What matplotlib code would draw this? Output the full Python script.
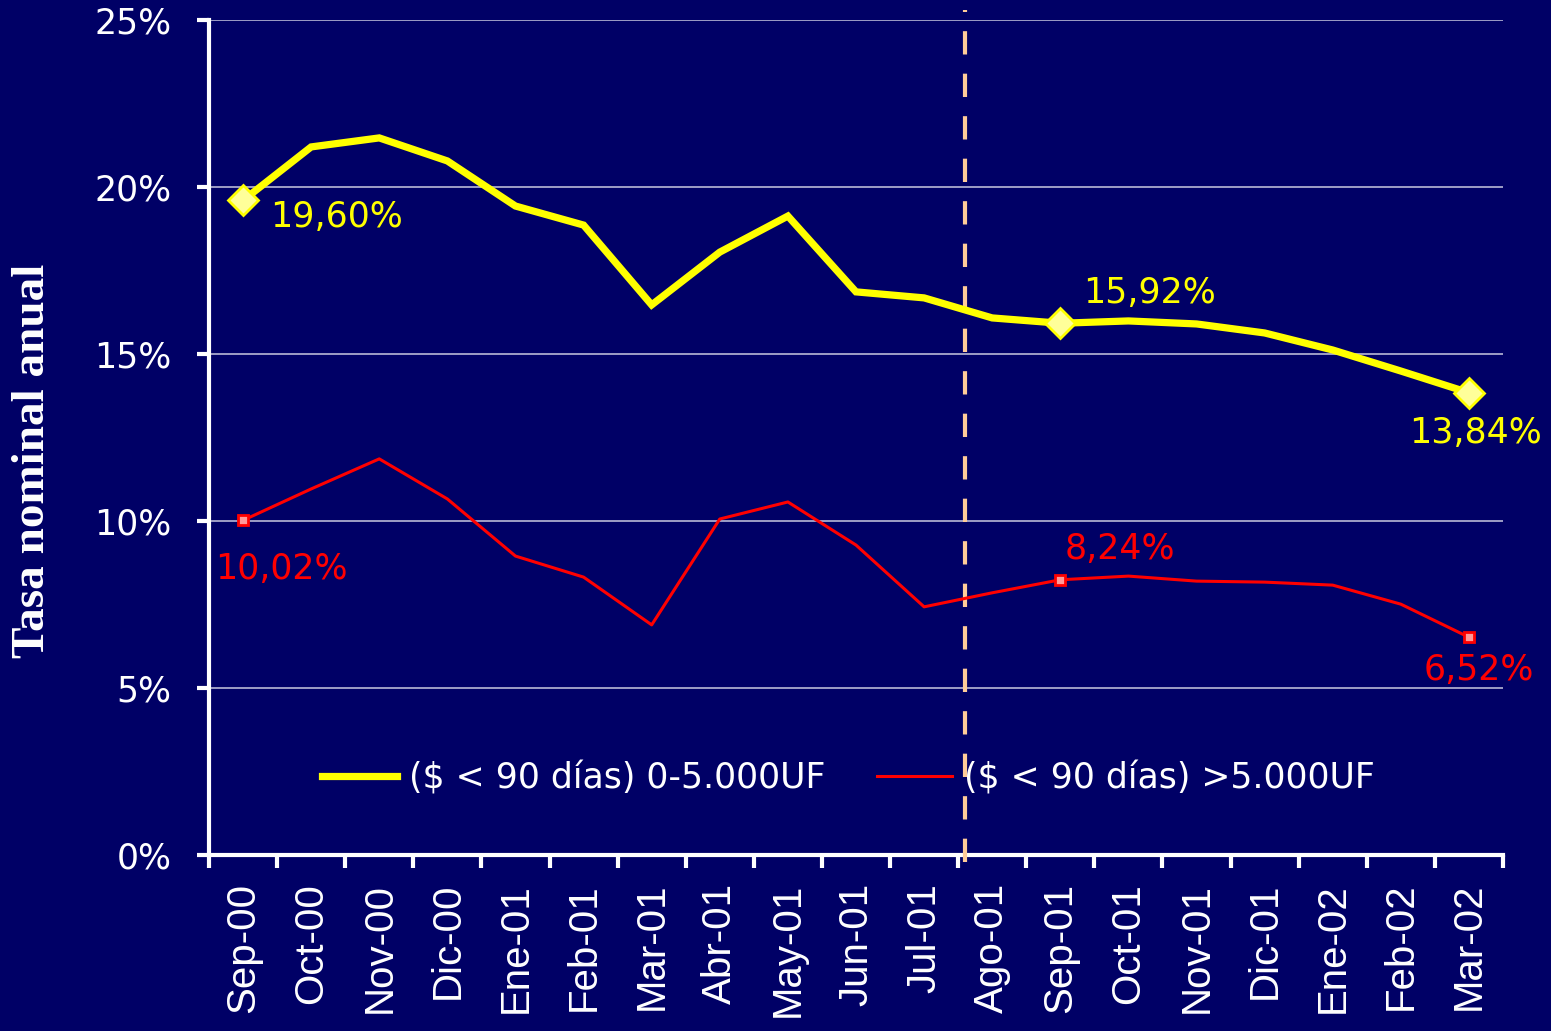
import matplotlib
matplotlib.use("Agg")
import matplotlib.pyplot as plt
from matplotlib.ticker import FixedLocator, FuncFormatter

categories = ["Sep-00", "Oct-00", "Nov-00", "Dic-00", "Ene-01", "Feb-01", "Mar-01",
              "Abr-01", "May-01", "Jun-01", "Jul-01", "Ago-01", "Sep-01", "Oct-01",
              "Nov-01", "Dic-01", "Ene-02", "Feb-02", "Mar-02"]
small = [19.60, 21.20, 21.47, 20.78, 19.43, 18.86, 16.47, 18.05, 19.13, 16.86,
         16.68, 16.08, 15.92, 15.99, 15.90, 15.63, 15.12, 14.49, 13.84]
large = [10.02, 10.96, 11.86, 10.66, 8.95, 8.32, 6.89, 10.06, 10.57, 9.28,
         7.43, 7.85, 8.24, 8.35, 8.20, 8.17, 8.08, 7.51, 6.52]
series_names = ["($ < 90 días) 0-5.000UF", "($ < 90 días) >5.000UF"]
marked = [0, 12, 18]
yticks = [0, 5, 10, 15, 20, 25]
divider = 10.6

BG = "#000066"
YEL = "#FFFF00"
RED = "#FF0000"

fig = plt.figure(figsize=(15.51, 10.31), dpi=100, facecolor=BG)
ax = fig.add_axes([209/1551, 1 - 855/1031, (1503-209)/1551, (855-20)/1031])
ax.set_facecolor(BG)

x = list(range(len(categories)))
ax.plot(x, small, color=YEL, lw=5.2, solid_joinstyle="miter", zorder=4,
        label=series_names[0])
ax.plot(x, large, color=RED, lw=2.2, zorder=4, label=series_names[1])
ax.plot([x[i] for i in marked], [small[i] for i in marked], ls="none", marker="D",
        ms=15, mfc="#FFFF99", mec=YEL, mew=2, zorder=5)
ax.plot([x[i] for i in marked], [large[i] for i in marked], ls="none", marker="s",
        ms=7, mfc="#FF9999", mec=RED, mew=2, zorder=5)

# labels
yel_off = [(27, -17, "left"), (23, 30, "left"), (7, -40, "center")]
red_off = [(38, -49, "center"), (60, 31, "center"), (10, -33, "center")]
for (dx, dy, ha), i in zip(yel_off, marked):
    ax.annotate(f"{small[i]:.2f}%".replace(".", ","), (x[i], small[i]),
                xytext=(dx, dy), textcoords="offset pixels", ha=ha, va="center",
                color=YEL, fontsize=25, family="DejaVu Sans", zorder=6,
                annotation_clip=False)
for (dx, dy, ha), i in zip(red_off, marked):
    ax.annotate(f"{large[i]:.2f}%".replace(".", ","), (x[i], large[i]),
                xytext=(dx, dy), textcoords="offset pixels", ha=ha, va="center",
                color=RED, fontsize=25, family="DejaVu Sans", zorder=6,
                annotation_clip=False)

ax.axvline(divider, ymin=-0.008, ymax=1.012, color="#FFCC99", lw=3.0,
           dashes=(5.6, 4.6), clip_on=False, zorder=3)

ax.set_xlim(-0.5, len(categories) - 0.5)
ax.set_ylim(0, 25)
ax.set_yticks(yticks)
ax.yaxis.set_major_formatter(FuncFormatter(lambda v, p: f"{v:.0f}%"))
for v in yticks[1:]:
    ax.axhline(v, color="#C8C8E0", lw=1.1, zorder=1)

ax.set_xticks(x)
ax.set_xticklabels(categories, rotation=90, fontsize=29, color="white",
                   family="Liberation Sans")
ax.xaxis.set_minor_locator(FixedLocator([i - 0.5 for i in range(len(categories) + 1)]))
ax.tick_params(axis="x", which="major", length=0, pad=20)
ax.tick_params(axis="x", which="minor", length=9, width=3, color="white", direction="out")
ax.tick_params(axis="y", length=9, width=3, color="white", pad=18,
               labelsize=25, labelcolor="white")
for lab in ax.get_yticklabels():
    lab.set_family("DejaVu Sans")

for s in ["top", "right"]:
    ax.spines[s].set_visible(False)
for s in ["left", "bottom"]:
    ax.spines[s].set_color("white")
    ax.spines[s].set_linewidth(3)

fig.text(33/1551, 1 - 461/1031, "Tasa nominal anual", rotation=90, ha="center",
         va="center", color="white", fontsize=34, fontweight="bold",
         family="Liberation Serif")

leg = ax.legend(loc="center", bbox_to_anchor=(0.494, 0.092), ncol=2, frameon=False,
                handlelength=2.16, columnspacing=1.47, handletextpad=0.35,
                prop={"family": "DejaVu Sans", "size": 25})
for t in leg.get_texts():
    t.set_color("white")

fig.savefig("out.png", dpi=100, facecolor=BG)
